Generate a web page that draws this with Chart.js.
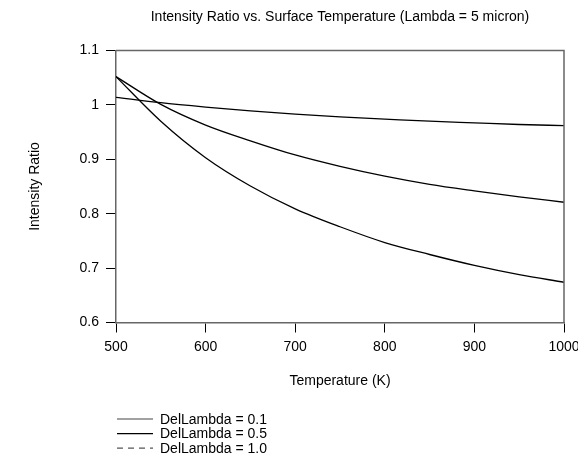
<!DOCTYPE html>
<html>
<head>
<meta charset="utf-8">
<script src="https://cdn.jsdelivr.net/npm/chart.js@4"></script>
<style>
  html, body { margin: 0; padding: 0; background: #fff; }
  #wrap { position: relative; width: 578px; height: 459px; }
</style>
</head>
<body>
<div id="wrap"><canvas id="chart" width="578" height="459"></canvas></div>
<script>
// data
const temps = [500, 550, 600, 650, 700, 750, 800, 850, 900, 950, 1000];
const ratio01 = [1.014, 1.004, 0.996, 0.989, 0.983, 0.978, 0.974, 0.970, 0.967, 0.964, 0.962];
const ratio05 = [1.052, 1.001, 0.963, 0.934, 0.908, 0.887, 0.869, 0.854, 0.842, 0.831, 0.821];
const ratio10 = [1.052, 0.970, 0.903, 0.851, 0.809, 0.776, 0.747, 0.725, 0.705, 0.688, 0.674];
const seriesLabels = ['DelLambda = 0.1', 'DelLambda = 0.5', 'DelLambda = 1.0'];
const xTicks = [500, 600, 700, 800, 900, 1000];
const yTicks = [0.6, 0.7, 0.8, 0.9, 1.0, 1.1];

const FONT = 'Arial, "Liberation Sans", sans-serif';
const FS = 14;
const legendDash = [[], [], [6, 5]];
const legendColor = ['#444', '#000', '#555'];

const toPoints = ys => temps.map((t, i) => ({ x: t, y: ys[i] }));

// title centred over the plot + box frame + stacked legend
const decor = {
    id: 'decor',
    afterDraw(chart) {
        const { ctx, chartArea: a } = chart;
        ctx.save();
        // top / right frame
        ctx.strokeStyle = '#666';
        ctx.lineWidth = 1.5;
        ctx.beginPath();
        ctx.moveTo(a.left, a.top);
        ctx.lineTo(a.right, a.top);
        ctx.lineTo(a.right, a.bottom);
        ctx.stroke();

        ctx.fillStyle = '#000';
        ctx.font = FS + 'px ' + FONT;
        ctx.textAlign = 'center';
        ctx.textBaseline = 'middle';
        ctx.fillText('Intensity Ratio vs. Surface Temperature (Lambda = 5 micron)', (a.left + a.right) / 2, 17.5);

        // legend
        ctx.textAlign = 'left';
        chart.data.datasets.forEach((ds, i) => {
            const y = 419 + i * 14.6;
            ctx.strokeStyle = legendColor[i];
            ctx.lineWidth = 1.2;
            ctx.setLineDash(legendDash[i]);
            ctx.beginPath();
            ctx.moveTo(117, y);
            ctx.lineTo(153, y);
            ctx.stroke();
            ctx.setLineDash([]);
            ctx.fillText(ds.label, 160, y + 1);
        });
        ctx.restore();
    }
};

const lineStyle = { borderColor: '#000', borderWidth: 1.3, pointRadius: 0, fill: false, cubicInterpolationMode: 'monotone' };

new Chart(document.getElementById('chart'), {
    type: 'line',
    data: {
        datasets: [
            { label: seriesLabels[0], data: toPoints(ratio01), ...lineStyle },
            { label: seriesLabels[1], data: toPoints(ratio05), ...lineStyle },
            { label: seriesLabels[2], data: toPoints(ratio10), ...lineStyle }
        ]
    },
    options: {
        responsive: false,
        animation: false,
        layout: { padding: { top: 50.5, right: 14, left: 0, bottom: 0 } },
        plugins: { legend: { display: false }, title: { display: false }, tooltip: { enabled: false } },
        scales: {
            x: {
                type: 'linear', min: 500, max: 1000,
                // keep plot edge at 1000 and let the last label run off the canvas
                afterFit: s => { s.height = 136.5; s.paddingRight = 0; s.paddingLeft = 0; },
                afterBuildTicks: s => { s.ticks = xTicks.map(v => ({ value: v })); },
                border: { display: true, color: '#666', width: 1.5 },
                grid: { drawOnChartArea: false, drawTicks: true, tickLength: 10, color: '#000', lineWidth: 1 },
                ticks: { padding: 6, color: '#000', maxRotation: 0, font: { size: FS, family: FONT }, callback: v => String(v) },
                title: { display: true, text: 'Temperature (K)', color: '#000', font: { size: FS, family: FONT }, padding: { bottom: 69.6 } }
            },
            y: {
                type: 'linear', min: 0.6, max: 1.1,
                afterFit: s => { s.width = 116; },
                afterBuildTicks: s => { s.ticks = yTicks.map(v => ({ value: v })); },
                border: { display: true, color: '#666', width: 1.5 },
                grid: { drawOnChartArea: false, drawTicks: true, tickLength: 10, color: '#000', lineWidth: 1 },
                ticks: { padding: 7, color: '#000', font: { size: FS, family: FONT }, callback: v => String(+v.toFixed(2)) },
                title: { display: true, text: 'Intensity Ratio', color: '#000', font: { size: FS, family: FONT }, padding: { top: 26.6 } }
            }
        }
    },
    plugins: [decor]
});
</script>
</body>
</html>
